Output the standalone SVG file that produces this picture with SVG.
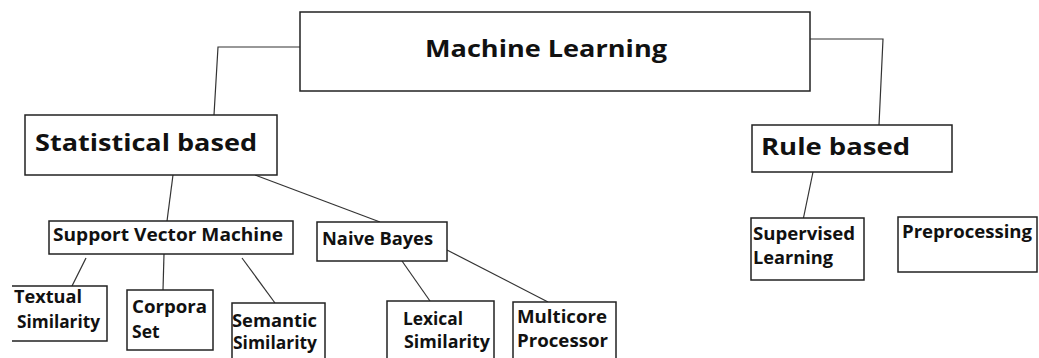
<svg xmlns="http://www.w3.org/2000/svg" width="1039" height="358" viewBox="0 0 1039 358">
  <style>
    .box { fill: #ffffff; stroke: #222222; stroke-width: 1.5; }
    .edge { fill: none; stroke: #333333; stroke-width: 1.2; }
    text { font-family: "Open Sans", "Liberation Sans", sans-serif; font-weight: 700; fill: #111111; }
    .t1 { font-size: 24px; }
    .t2 { font-size: 18px; }
    .t3 { font-size: 17.5px; }
  </style>
  <rect width="1039" height="358" fill="#ffffff"/>

  <!-- connectors -->
  <g id="connectors">
    <polyline class="edge" points="300,47 218,47 214,115"/>
    <polyline class="edge" points="810,39 883,39 879,125"/>
    <line class="edge" x1="173" y1="175" x2="167" y2="221"/>
    <line class="edge" x1="255" y1="175" x2="380" y2="222"/>
    <line class="edge" x1="813" y1="172" x2="802" y2="225"/>
    <line class="edge" x1="86" y1="258" x2="72" y2="286"/>
    <line class="edge" x1="164" y1="254" x2="163" y2="290"/>
    <line class="edge" x1="242" y1="258" x2="275" y2="303"/>
    <line class="edge" x1="402" y1="261" x2="430" y2="301"/>
    <line class="edge" x1="447" y1="250" x2="548" y2="302"/>
  </g>

  <g id="machine-learning">
    <rect class="box" x="300" y="12" width="510" height="79"/>
    <text class="t1" x="425" y="57" textLength="242" lengthAdjust="spacingAndGlyphs">Machine Learning</text>
  </g>

  <g id="statistical-based">
    <rect class="box" x="25" y="115" width="252" height="60"/>
    <text class="t1" x="35" y="151" textLength="222" lengthAdjust="spacingAndGlyphs">Statistical based</text>
  </g>

  <g id="rule-based">
    <rect class="box" x="752" y="125" width="200" height="47"/>
    <text class="t1" x="761" y="155" textLength="149" lengthAdjust="spacingAndGlyphs">Rule based</text>
  </g>

  <g id="support-vector-machine">
    <rect class="box" x="49" y="221" width="244" height="33"/>
    <text class="t2" x="53" y="241" textLength="230" lengthAdjust="spacingAndGlyphs">Support Vector Machine</text>
  </g>

  <g id="naive-bayes">
    <rect class="box" x="317" y="222" width="130" height="39"/>
    <text class="t2" x="322" y="245" textLength="111" lengthAdjust="spacingAndGlyphs">Naive Bayes</text>
  </g>

  <g id="supervised-learning">
    <rect class="box" x="751" y="218" width="113" height="62"/>
    <text class="t2" x="753" y="240" textLength="102" lengthAdjust="spacingAndGlyphs">Supervised</text>
    <text class="t2" x="753" y="264" textLength="80" lengthAdjust="spacingAndGlyphs">Learning</text>
  </g>

  <g id="preprocessing">
    <rect class="box" x="898" y="217" width="139" height="55"/>
    <text class="t2" x="902" y="238" textLength="130" lengthAdjust="spacingAndGlyphs">Preprocessing</text>
  </g>

  <g id="textual-similarity">
    <path class="box" d="M12,286 H107 V341 H12"/>
    <text class="t3" x="14" y="303" textLength="68" lengthAdjust="spacingAndGlyphs">Textual</text>
    <text class="t3" x="17" y="328" textLength="83" lengthAdjust="spacingAndGlyphs">Similarity</text>
  </g>

  <g id="corpora-set">
    <rect class="box" x="127" y="290" width="86" height="60"/>
    <text class="t3" x="132" y="313" textLength="75" lengthAdjust="spacingAndGlyphs">Corpora</text>
    <text class="t3" x="132" y="338">Set</text>
  </g>

  <g id="semantic-similarity">
    <rect class="box" x="232" y="303" width="93" height="70"/>
    <text class="t3" x="232" y="327" textLength="85" lengthAdjust="spacingAndGlyphs">Semantic</text>
    <text class="t3" x="233" y="349" textLength="84" lengthAdjust="spacingAndGlyphs">Similarity</text>
  </g>

  <g id="lexical-similarity">
    <rect class="box" x="387" y="301" width="107" height="70"/>
    <text class="t3" x="403" y="325" textLength="60" lengthAdjust="spacingAndGlyphs">Lexical</text>
    <text class="t3" x="404" y="348" textLength="86" lengthAdjust="spacingAndGlyphs">Similarity</text>
  </g>

  <g id="multicore-processor">
    <rect class="box" x="513" y="302" width="103" height="70"/>
    <text class="t3" x="517" y="323" textLength="90" lengthAdjust="spacingAndGlyphs">Multicore</text>
    <text class="t3" x="517" y="347" textLength="91" lengthAdjust="spacingAndGlyphs">Processor</text>
  </g>
</svg>
